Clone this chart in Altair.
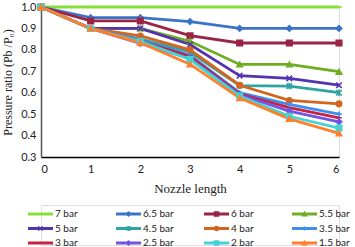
import altair as alt
import pandas as pd

x_vals = [0, 1, 2, 3, 4, 5, 6]
series = ["7 bar", "6.5 bar", "6 bar", "5.5 bar", "5 bar", "4.5 bar",
          "4 bar", "3.5 bar", "3 bar", "2.5 bar", "2 bar", "1.5 bar"]
values = {
    "7 bar":   [1.0, 1.0, 1.0, 1.0, 1.0, 1.0, 1.0],
    "6.5 bar": [1.0, 0.95, 0.95, 0.932, 0.90, 0.90, 0.90],
    "6 bar":   [1.0, 0.935, 0.935, 0.866, 0.832, 0.832, 0.832],
    "5.5 bar": [1.0, 0.90, 0.90, 0.84, 0.732, 0.732, 0.698],
    "5 bar":   [1.0, 0.90, 0.90, 0.825, 0.68, 0.667, 0.635],
    "4.5 bar": [1.0, 0.90, 0.85, 0.79, 0.633, 0.631, 0.60],
    "4 bar":   [1.0, 0.90, 0.865, 0.80, 0.635, 0.564, 0.548],
    "3.5 bar": [1.0, 0.90, 0.845, 0.775, 0.60, 0.546, 0.50],
    "3 bar":   [1.0, 0.90, 0.84, 0.77, 0.595, 0.53, 0.483],
    "2.5 bar": [1.0, 0.90, 0.83, 0.76, 0.59, 0.514, 0.464],
    "2 bar":   [1.0, 0.90, 0.84, 0.755, 0.585, 0.49, 0.435],
    "1.5 bar": [1.0, 0.90, 0.833, 0.733, 0.575, 0.478, 0.41],
}
colors = ["#84e038", "#3a74c8", "#9a2445", "#6fae22", "#5234b0", "#2fa3a3",
          "#d2661e", "#3d8ef2", "#c42342", "#7353e2", "#45d3d3", "#ff7f2a"]
shapes = [
    "M-1,0L1,0",                       # 7 bar (dash)
    "diamond",                         # 6.5
    "square",                          # 6
    "triangle-up",                     # 5.5
    "M-1,-1L1,1M-1,1L1,-1",            # 5 (x)
    "M-1,-1L1,1M-1,1L1,-1M0,-1.2L0,1.2",  # 4.5 (asterisk)
    "circle",                          # 4
    "M-1,0L1,0M0,-1L0,1",              # 3.5 (plus)
    "M-1,0L1,0",                       # 3 (none)
    "diamond",                         # 2.5
    "square",                          # 2
    "triangle-up",                     # 1.5
]

rows = []
for i, s in enumerate(series):
    for x, v in zip(x_vals, values[s]):
        rows.append({"series": s, "order": i, "x": x, "y": v})
df = pd.DataFrame(rows)

color_scale = alt.Scale(domain=series, range=colors)
shape_scale = alt.Scale(domain=series, range=shapes)

base = alt.Chart(df).encode(
    x=alt.X("x:Q", scale=alt.Scale(domain=[0, 6], nice=False),
            axis=alt.Axis(values=x_vals, format="d", title="Nozzle length",
                          grid=False, ticks=False, domainColor="#000",
                          domainWidth=1.5, labelFont="Lato", labelFontSize=11,
                          labelColor="#222", labelPadding=6,
                          titleFont="Liberation Serif", titleFontSize=13,
                          titleFontWeight="normal", titleColor="#222",
                          titlePadding=8)),
    y=alt.Y("y:Q", scale=alt.Scale(domain=[0.3, 1.0], nice=False, zero=False),
            axis=alt.Axis(values=[0.3, 0.4, 0.5, 0.6, 0.7, 0.8, 0.9, 1.0],
                          format=".1f", title="Pressure ratio (Pb /P₀)",
                          grid=False, ticks=False, domainColor="#555",
                          domainWidth=1.5, labelFont="Lato", labelFontSize=11,
                          labelColor="#222", labelPadding=5,
                          titleFont="Liberation Serif", titleFontSize=12,
                          titleFontWeight="normal", titleColor="#222",
                          titlePadding=6)),
    color=alt.Color("series:N", scale=color_scale, legend=None),
    detail="series:N",
    order="order:Q",
)

lines = base.mark_line(strokeWidth=2.8)
points = base.mark_point(filled=True, size=30, strokeWidth=1.6, opacity=1).encode(
    shape=alt.Shape("series:N", scale=shape_scale, legend=None),
    stroke=alt.Stroke("series:N", scale=color_scale, legend=None),
)

top = alt.layer(lines, points).properties(width=298, height=150)

# manual legend
leg_rows = []
for i, s in enumerate(series):
    col = i % 4
    row = i // 4
    x0 = -13 + col * 88
    leg_rows.append({"series": s, "x0": x0, "x1": x0 + 25, "xm": x0 + 12.5,
                     "xt": x0 + 27, "yy": 9 + row * 14.5})
ldf = pd.DataFrame(leg_rows)
lx = alt.Scale(domain=[0, 298], range=[0, 298])
ly = alt.Scale(domain=[0, 40], range=[0, 40])
lbase = alt.Chart(ldf)
lrule = lbase.mark_rule(strokeWidth=3).encode(
    x=alt.X("x0:Q", scale=lx, axis=None),
    x2="x1:Q",
    y=alt.Y("yy:Q", scale=ly, axis=None),
    color=alt.Color("series:N", scale=color_scale, legend=None),
)
lpt = lbase.mark_point(filled=True, size=18, strokeWidth=1.3, opacity=1).encode(
    x=alt.X("xm:Q", scale=lx, axis=None),
    y=alt.Y("yy:Q", scale=ly, axis=None),
    color=alt.Color("series:N", scale=color_scale, legend=None),
    stroke=alt.Stroke("series:N", scale=color_scale, legend=None),
    shape=alt.Shape("series:N", scale=shape_scale, legend=None),
)
ltext = lbase.mark_text(align="left", baseline="middle", font="Lato",
                        fontSize=10, color="#222").encode(
    x=alt.X("xt:Q", scale=lx, axis=None),
    y=alt.Y("yy:Q", scale=ly, axis=None),
    text="series:N",
)
legend = alt.layer(lrule, lpt, ltext).properties(width=298, height=40)

chart = alt.vconcat(top, legend, spacing=8).properties(
    padding={"left": 1, "top": 0, "right": 0, "bottom": 0}
).configure_view(stroke=None).configure(background="white")

chart.save("out.html", embed_options={"renderer": "svg", "actions": False})
